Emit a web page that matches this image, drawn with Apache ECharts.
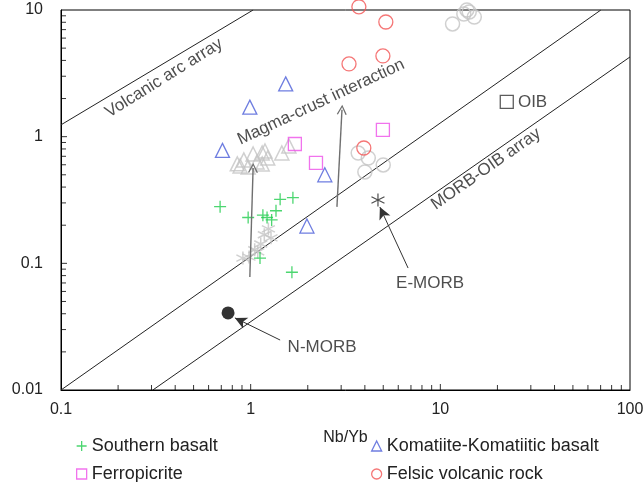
<!DOCTYPE html>
<html><head><meta charset="utf-8">
<script src="https://cdn.jsdelivr.net/npm/echarts@6/dist/echarts.min.js"></script>
<style>html,body{margin:0;padding:0;background:#fff}#c{width:644px;height:482px}</style>
</head><body><div id="c"></div>
<script>
// ---- data (Nb/Yb, Th/Yb) ----
const southernBasalt = [[0.69,0.28],[0.97,0.23],[1.16,0.24],[1.22,0.23],[1.29,0.22],[1.36,0.26],[1.43,0.32],[1.67,0.33],[1.12,0.11],[1.65,0.085]];
const komatiite = [[0.71,0.78],[0.99,1.71],[1.53,2.61],[2.46,0.50],[1.98,0.197]];
const ferropicrite = [[1.71,0.875],[2.21,0.62],[4.98,1.13]];
const felsic = [[3.72,10.6],[5.16,8.04],[4.98,4.34],[3.30,3.75],[3.95,0.814]];
const grayCircles = [[13.8,10.0],[14.2,9.64],[13.3,9.3],[15.1,8.8],[11.6,7.76],[3.69,0.743],[4.17,0.679],[5.0,0.598],[4.0,0.527]];
const grayTriangles = [[0.85,0.61],[0.92,0.655],[0.97,0.577],[1.03,0.73],[1.08,0.631],[1.15,0.743],[1.19,0.771],[1.23,0.679],[1.15,0.609],[1.46,0.743],[1.59,0.845],[0.88,0.587]];
const grayStars = [[1.24,0.187],[1.18,0.168],[1.28,0.159],[1.13,0.142],[1.05,0.128],[0.98,0.112],[0.91,0.110],[1.09,0.123]];
const nMorb = [[0.76,0.0406]];
const eMorb = [[4.69,0.316]];
const oib = [[22.4,1.88]];

// reference lines
const volcanicArcLine = [[0.1,1.24],[1.03,10]];
const morbOibUpper = [[0.1,0.01],[70.2,10]];
const morbOibLower = [[0.305,0.01],[100,4.26]];

// arrows [from, to]
const crustArrows = [[[0.99,0.078],[1.03,0.566]],[[2.85,0.279],[3.03,1.63]]];
const morbArrows = [[[6.76,0.0918],[4.80,0.278]],[[1.43,0.0248],[0.826,0.0371]]];

// annotations [x, y, text, rotation]
const annotations = [
  [0.349,2.90,'Volcanic arc array',32],
  [2.35,1.88,'Magma-crust interaction',25],
  [17.4,0.556,'MORB-OIB array',35],
  [8.83,0.0695,'E-MORB',0],
  [2.38,0.0219,'N-MORB',0]
];

// axis ticks
const X_MIN = 0.1, X_MAX = 100, Y_MIN = 0.01, Y_MAX = 10;
const xMajorTicks = [1,10];
const yMajorTicks = [0.1,1];
const xMinorTicks = [0.2,0.3,0.4,0.5,0.6,0.7,0.8,0.9,2,3,4,5,6,7,8,9,20,30,40,50,60,70,80,90];
const yMinorTicks = [0.02,0.03,0.04,0.05,0.06,0.07,0.08,0.09,0.2,0.3,0.4,0.5,0.6,0.7,0.8,0.9,2,3,4,5,6,7,8,9];

const legendNames = ['Southern basalt','Komatiite-Komatiitic basalt','Ferropicrite','Felsic volcanic rock'];

const FONT = 'Liberation Sans, Arial, Helvetica, sans-serif';
const PLUS = 'path://M5,0L5,10M0,5L10,5';
const STAR = 'path://M5,0L5,10M0.67,2.5L9.33,7.5M0.67,7.5L9.33,2.5';
const CHEVRON = 'path://M0,10L5,0L10,10L8.8,10.6L5,2.6L1.2,10.6Z';
const C = {green:'#1fcc4c', blue:'#4a5cd8', magenta:'#ee50e8', red:'#f25454', gray:'#c4c4c4'};

function hollow(col, w){ return {color:'rgba(0,0,0,0)', borderColor:col, borderWidth:w||1.3}; }
function refLine(d){ return {type:'line', data:d, symbol:'none', silent:true, z:1, lineStyle:{color:'#222', width:1}, animation:false}; }
function tickSeries(data, size, offset){
  return {type:'scatter', data, symbol:'rect', symbolSize:size, symbolOffset:offset, silent:true, clip:false, z:10,
    itemStyle:{color:'#000', borderWidth:0}};
}

const chart = echarts.init(document.getElementById('c'));
const series = [
  Object.assign(refLine(volcanicArcLine), {
    markLine:{silent:true, symbol:['none', CHEVRON], symbolSize:[10,10], label:{show:false},
      lineStyle:{color:'#6f6f6f', width:1.4, type:'solid'}, animation:false,
      data: crustArrows.map(a => [{coord:a[0]},{coord:a[1]}])}
  }),
  Object.assign(refLine(morbOibUpper), {
    markLine:{silent:true, symbol:['none','arrow'], symbolSize:[9,12], label:{show:false},
      lineStyle:{color:'#333', width:1, type:'solid'}, animation:false,
      data: morbArrows.map(a => [{coord:a[0]},{coord:a[1]}])}
  }),
  refLine(morbOibLower),
  {type:'scatter', data:grayTriangles, symbol:'triangle', symbolSize:14, itemStyle:hollow(C.gray,1.5), z:2, clip:false},
  {type:'scatter', data:grayCircles, symbol:'circle', symbolSize:14, itemStyle:hollow(C.gray,1.5), z:2, clip:false},
  {type:'scatter', data:grayStars, symbol:STAR, symbolSize:13, itemStyle:hollow(C.gray,1.5), z:2, clip:false},
  {name:legendNames[0], type:'scatter', data:southernBasalt, symbol:PLUS, symbolSize:12, itemStyle:hollow(C.green,1.3), z:3, clip:false},
  {name:legendNames[1], type:'scatter', data:komatiite, symbol:'triangle', symbolSize:14, itemStyle:hollow(C.blue,1.3), z:3, clip:false},
  {name:legendNames[2], type:'scatter', data:ferropicrite, symbol:'rect', symbolSize:13, itemStyle:hollow(C.magenta,1.3), z:3, clip:false},
  {name:legendNames[3], type:'scatter', data:felsic, symbol:'circle', symbolSize:14, itemStyle:hollow(C.red,1.3), z:3, clip:false},
  {type:'scatter', data:nMorb, symbol:'circle', symbolSize:13, itemStyle:{color:'#000'}, z:4, clip:false},
  {type:'scatter', data:eMorb, symbol:STAR, symbolSize:13, itemStyle:hollow('#222',1.2), z:4, clip:false},
  {type:'scatter', data:oib, symbol:'rect', symbolSize:13, itemStyle:hollow('#333',1.3), z:4, clip:false,
    label:{show:true, position:'right', distance:4, formatter:'OIB', color:'#222', fontSize:17, fontFamily:FONT}},
  {type:'scatter', symbolSize:0, silent:true, z:5, clip:false,
    data: annotations.map(a => ({value:[a[0],a[1]], name:a[2], label:{rotate:a[3]}})),
    label:{show:true, position:'inside', formatter:'{b}', color:'#222', fontSize:17, fontFamily:FONT, align:'center', verticalAlign:'middle'}},
  tickSeries(xMajorTicks.map(v => [v, Y_MIN]), [1,6], [0,-3]),
  tickSeries(xMinorTicks.map(v => [v, Y_MIN]), [1,5], [0,-2.5]),
  tickSeries(yMajorTicks.map(v => [X_MIN, v]), [6,1], [3,0]),
  tickSeries(yMinorTicks.map(v => [X_MIN, v]), [5,1], [2.5,0])
];

const icons = [PLUS,'triangle','rect','circle'];
const cols = [C.green, C.blue, C.magenta, C.red];
const legendPos = [[76,437],[371,437],[76,465],[371,465]];
const legends = legendNames.map((n,i) => ({
  orient:'horizontal', left:legendPos[i][0], top:legendPos[i][1], itemWidth:10, itemHeight:10,
  padding:0, textStyle:{fontSize:18, color:'#222', fontFamily:FONT},
  data:[{name:n, icon:icons[i], itemStyle:hollow(cols[i],1.3)}]
}));

chart.setOption({
  animation:false,
  backgroundColor:'#fff',
  textStyle:{fontFamily:FONT},
  grid:{left:61, right:14, top:10, bottom:92, show:true, borderColor:'#000', borderWidth:1, containLabel:false, outerBoundsMode:'none'},
  xAxis:{type:'log', logBase:10, min:X_MIN, max:X_MAX, name:'Nb/Yb', nameLocation:'middle', nameGap:40,
    nameTextStyle:{fontSize:16, color:'#222', fontFamily:FONT},
    axisLine:{lineStyle:{color:'#000'}}, axisTick:{show:false},
    axisLabel:{fontSize:16, color:'#222', margin:12, fontFamily:FONT}, splitLine:{show:false}},
  yAxis:{type:'log', logBase:10, min:Y_MIN, max:Y_MAX, name:'Th/Yb', nameLocation:'middle', nameGap:46,
    nameTextStyle:{fontSize:16, color:'#222', fontFamily:FONT},
    axisLine:{lineStyle:{color:'#000'}}, axisTick:{show:false},
    axisLabel:{fontSize:16, color:'#222', margin:18, fontFamily:FONT}, splitLine:{show:false}},
  legend: legends,
  series
});
</script>
</body></html>
